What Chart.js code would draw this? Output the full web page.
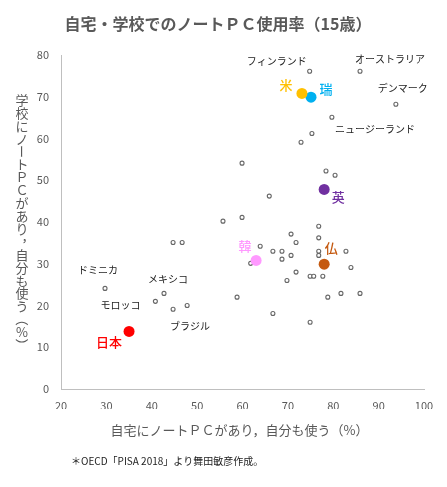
<!DOCTYPE html>
<html>
<head>
<meta charset="utf-8">
<script src="https://cdn.jsdelivr.net/npm/chart.js@4.4.1/dist/chart.umd.min.js"></script>
<style>
html,body{margin:0;padding:0;background:#fff;}
#wrap{width:447px;height:487px;}
</style>
</head>
<body>
<div id="wrap"><canvas id="c" width="447" height="487"></canvas></div>
<script>
// ---- data ----
const chartTitle = '自宅・学校でのノートＰＣ使用率（15歳）';
const xTitle = '自宅にノートＰＣがあり，自分も使う（%）';
const yTitle = '学校にノートＰＣがあり，自分も使う（%）';
const footnote = '＊OECD「PISA 2018」より舞田敏彦作成。';

const xTicks = [20, 30, 40, 50, 60, 70, 80, 90, 100];
const yTicks = [0, 10, 20, 30, 40, 50, 60, 70, 80];

// other countries (home %, school %)
const otherX = [74.8, 85.9, 93.8, 79.7, 75.3, 72.9, 59.9, 78.4, 80.4, 65.9, 59.9, 55.7, 76.8, 70.7, 76.8, 71.8, 44.7, 46.7, 63.9, 61.8, 66.7, 68.7, 68.7, 70.7, 76.8, 76.8, 82.8, 83.9, 71.8, 69.8, 74.9, 75.7, 77.7, 78.8, 81.7, 85.9, 58.8, 66.7, 74.9, 29.7, 42.7, 40.8, 44.7, 47.8];
const otherY = [76.1, 76.1, 68.2, 65.1, 61.2, 59.1, 54.1, 52.2, 51.2, 46.2, 41.1, 40.2, 39.0, 37.1, 36.2, 35.1, 35.1, 35.1, 34.2, 30.1, 33.0, 33.0, 31.1, 32.0, 33.0, 32.0, 33.0, 29.1, 28.0, 26.0, 27.0, 27.0, 27.0, 22.0, 22.9, 22.9, 22.0, 18.1, 16.0, 24.1, 22.9, 21.0, 19.1, 20.0];

// named small points
const namedLabels = ['フィンランド', 'オーストラリア', 'デンマーク', 'ニュージーランド', 'ドミニカ', 'メキシコ', 'モロッコ', 'ブラジル'];
const namedX = [74.8, 85.9, 93.8, 75.3, 29.7, 42.7, 40.8, 44.7];
const namedY = [76.1, 76.1, 68.2, 61.2, 24.1, 22.9, 21.0, 19.1];

// highlighted countries
const hiLabels = ['米', '瑞', '英', '韓', '仏', '日本'];
const hiX = [73.1, 75.1, 78.0, 63.0, 78.0, 35.0];
const hiY = [70.8, 69.9, 47.8, 30.8, 29.9, 13.8];
const hiColors = ['#FFC000', '#00B0F0', '#7030A0', '#FF99FF', '#C55A11', '#FF0000'];

// ---- styles / offsets (pixels) ----
const namedOffsets = [[-33,-10],[30,-12],[7,-16],[63,-4],[-7,-18],[4,-14],[-35,4],[17,17]];
const hiOffsets = [[-16,-8],[15,-8],[14,8],[-11,-14],[7,-16],[-20,11]];
const FONT = '"Noto Sans CJK JP", "Noto Sans", sans-serif';
const GRAY = '#595959';

const datasets = [];
hiLabels.forEach((name, i) => {
  datasets.push({
    label: name,
    data: [{x: hiX[i], y: hiY[i]}],
    backgroundColor: hiColors[i],
    borderColor: hiColors[i],
    pointRadius: 5.5,
    borderWidth: 0,
    order: 0
  });
});
datasets.push({
  label: 'others',
  data: otherX.map((x, i) => ({x: x, y: otherY[i]})),
  backgroundColor: '#ffffff',
  borderColor: '#666666',
  borderWidth: 1.1,
  pointRadius: 2,
  order: 1
});

const textPlugin = {
  id: 'texts',
  afterDatasetsDraw(chart) {
    const ctx = chart.ctx;
    const xs = chart.scales.x, ys = chart.scales.y;
    ctx.save();
    ctx.textAlign = 'center';
    ctx.textBaseline = 'middle';
    ctx.fillStyle = '#222';
    ctx.font = '10px ' + FONT;
    namedLabels.forEach((t, i) => {
      const px = xs.getPixelForValue(namedX[i]) + namedOffsets[i][0];
      const py = ys.getPixelForValue(namedY[i]) + namedOffsets[i][1];
      ctx.fillText(t, px, py);
    });
    ctx.font = '500 13px ' + FONT;
    hiLabels.forEach((t, i) => {
      ctx.fillStyle = hiColors[i];
      const px = xs.getPixelForValue(hiX[i]) + hiOffsets[i][0];
      const py = ys.getPixelForValue(hiY[i]) + hiOffsets[i][1];
      ctx.fillText(t, px, py);
    });
    ctx.restore();
  },
  afterDraw(chart) {
    const ctx = chart.ctx;
    const area = chart.chartArea;
    ctx.save();
    ctx.textAlign = 'center';
    ctx.textBaseline = 'middle';
    // title
    ctx.fillStyle = GRAY;
    ctx.font = 'bold 16px ' + FONT;
    ctx.fillText(chartTitle, 218, 24);
    // x title
    ctx.font = '13px ' + FONT;
    ctx.fillText(xTitle, (area.left + area.right) / 2 - 3, 430);
    // y title vertical
    const chars = Array.from(yTitle);
    const step = 12.9;
    const startY = 100;
    chars.forEach((ch, i) => {
      const cy = startY + i * step;
      if ('ー（）'.includes(ch)) {
        ctx.save();
        ctx.translate(22, cy);
        ctx.rotate(Math.PI / 2);
        ctx.fillText(ch, 0, 0);
        ctx.restore();
      } else if (ch === '，') {
        ctx.fillText(ch, 28, cy - 6);
      } else {
        ctx.fillText(ch, 22, cy);
      }
    });
    // footnote
    ctx.fillStyle = '#222';
    ctx.font = '10px ' + FONT;
    ctx.textAlign = 'left';
    ctx.fillText(footnote, 71, 461);
    ctx.restore();
  }
};

new Chart(document.getElementById('c'), {
  type: 'scatter',
  data: { datasets: datasets },
  options: {
    responsive: false,
    animation: false,
    devicePixelRatio: 1,
    layout: { padding: { left: 0, right: 23, top: 55, bottom: 78 } },
    plugins: { legend: { display: false }, tooltip: { enabled: false }, title: { display: false } },
    scales: {
      x: {
        type: 'linear',
        min: xTicks[0], max: xTicks[xTicks.length - 1],
        afterBuildTicks(s) { s.ticks = xTicks.map(v => ({value: v})); },
        afterFit(s) { s.height = 20; },
        grid: { display: false, drawTicks: false },
        border: { display: true, color: '#BFBFBF', width: 1 },
        ticks: { padding: 10, color: GRAY, font: { family: FONT, size: 11 }, maxRotation: 0 }
      },
      y: {
        type: 'linear',
        min: yTicks[0], max: yTicks[yTicks.length - 1],
        afterBuildTicks(s) { s.ticks = yTicks.map(v => ({value: v})); },
        afterFit(s) { s.width = 61; },
        grid: { display: false, drawTicks: false },
        border: { display: true, color: '#BFBFBF', width: 1 },
        ticks: { padding: 12, color: GRAY, font: { family: FONT, size: 11 } }
      }
    }
  },
  plugins: [textPlugin]
});
</script>
</body>
</html>
